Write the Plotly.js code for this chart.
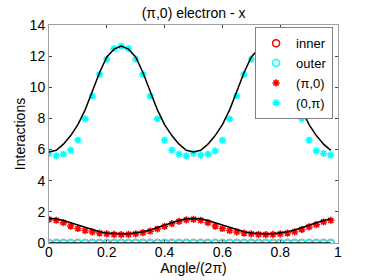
<!DOCTYPE html>
<html>
<head>
<meta charset="utf-8">
<script src="https://cdn.plot.ly/plotly-3.0.1.min.js"></script>
<style>html,body{margin:0;padding:0;background:#fff;}#chart{width:374px;height:280px;}</style>
</head>
<body>
<div id="chart"></div>
<script>
// angle samples k/40, k = 0..39
var angle = [0,0.025,0.05,0.075,0.1,0.125,0.15,0.175,0.2,0.225,0.25,0.275,0.3,0.325,0.35,0.375,0.4,0.425,0.45,0.475,
             0.5,0.525,0.55,0.575,0.6,0.625,0.65,0.675,0.7,0.725,0.75,0.775,0.8,0.825,0.85,0.875,0.9,0.925,0.95,0.975];
var innerVals = [0,0,0,0,0,0,0,0,0,0,0,0,0,0,0,0,0,0,0,0,0,0,0,0,0,0,0,0,0,0,0,0,0,0,0,0,0,0,0,0];
var outerVals = [0,0,0,0,0,0,0,0,0,0,0,0,0,0,0,0,0,0,0,0,0,0,0,0,0,0,0,0,0,0,0,0,0,0,0,0,0,0,0,0];
var piZero = [1.52,1.46,1.31,1.09,0.93,0.8,0.71,0.64,0.58,0.55,0.54,0.55,0.58,0.66,0.76,0.9,1.07,1.24,1.39,1.48,
              1.52,1.46,1.31,1.09,0.93,0.8,0.71,0.64,0.58,0.55,0.54,0.55,0.58,0.64,0.71,0.86,1.03,1.18,1.35,1.46];
var zeroPi = [5.75,5.6,5.7,5.96,6.6,7.97,9.44,10.83,11.8,12.48,12.65,12.48,11.8,10.83,9.44,7.97,6.6,5.96,5.7,5.6,
              5.75,5.64,5.7,5.92,6.6,7.97,9.45,10.83,11.8,12.48,12.65,12.48,11.8,10.83,9.44,7.97,6.6,5.92,5.75,5.64];
var fitHigh = [5.85,5.95,6.35,6.9,7.6,8.55,9.75,10.95,11.95,12.45,12.65,12.45,11.95,10.95,9.75,8.55,7.6,6.9,6.35,5.95,
               5.85,5.95,6.35,6.9,7.6,8.55,9.75,10.95,11.95,12.45,12.65,12.45,11.95,10.95,9.75,8.55,7.6,6.9,6.35,5.95];
var fitLow = [1.57,1.55,1.45,1.3,1.13,0.97,0.83,0.72,0.64,0.6,0.59,0.6,0.64,0.72,0.83,0.97,1.13,1.3,1.45,1.55,
              1.57,1.55,1.45,1.3,1.13,0.97,0.83,0.72,0.64,0.6,0.59,0.6,0.64,0.72,0.83,0.97,1.13,1.3,1.45,1.55];
var fitZero = [0,0,0,0,0,0,0,0,0,0,0,0,0,0,0,0,0,0,0,0,0,0,0,0,0,0,0,0,0,0,0,0,0,0,0,0,0,0,0,0];
var xTicks = [0,0.2,0.4,0.6,0.8,1];
var xTickText = ['0','0.2','0.4','0.6','0.8','1'];
var yTicks = [0,2,4,6,8,10,12,14];

var red = '#ff0000', cyan = '#00ffff';
var traces = [
  {x: angle, y: innerVals, name: 'inner', type: 'scatter', mode: 'markers',
   marker: {symbol: 'circle-open', size: 7, color: red, line: {width: 1.5, color: red}}},
  {x: angle, y: outerVals, name: 'outer', type: 'scatter', mode: 'markers',
   marker: {symbol: 'circle-open', size: 7, color: cyan, line: {width: 1.5, color: cyan}}},
  {x: angle, y: piZero, name: '(\u03c0,0)', type: 'scatter', mode: 'markers',
   marker: {symbol: 'asterisk-open', size: 6, color: red, line: {width: 1.6, color: red}}},
  {x: angle, y: zeroPi, name: '(0,\u03c0)', type: 'scatter', mode: 'markers',
   marker: {symbol: 'asterisk-open', size: 6, color: cyan, line: {width: 1.6, color: cyan}}},
  {x: angle, y: fitHigh, type: 'scatter', mode: 'lines', showlegend: false, line: {color: '#000', width: 1.5}},
  {x: angle, y: fitLow, type: 'scatter', mode: 'lines', showlegend: false, line: {color: '#000', width: 1.5}},
  {x: angle, y: fitZero, type: 'scatter', mode: 'lines', showlegend: false, line: {color: '#000', width: 1.5}}
];
var layout = {
  width: 374, height: 280,
  margin: {l: 49, r: 36, t: 25, b: 37},
  paper_bgcolor: '#fff', plot_bgcolor: '#fff',
  font: {family: 'Liberation Sans, Arial, sans-serif', size: 14, color: '#000'},
  title: {text: '(\u03c0,0) electron - x', font: {size: 14}, x: 0.5175, xanchor: 'center', y: 0.955, yanchor: 'middle'},
  xaxis: {range: [0, 1], tickvals: xTicks, ticktext: xTickText, ticks: 'inside', ticklen: 3, tickcolor: '#444',
          ticklabelstandoff: -4,
          showline: true, linecolor: '#a0a0a0', linewidth: 1, mirror: 'ticks', showgrid: false, zeroline: false,
          title: {text: 'Angle/(2\u03c0)', font: {size: 14}, standoff: 0}, automargin: false},
  yaxis: {range: [0, 14], tickvals: yTicks, ticks: 'inside', ticklen: 3, tickcolor: '#444',
          showline: true, linecolor: '#a0a0a0', linewidth: 1, mirror: 'ticks', showgrid: false, zeroline: false,
          title: {text: 'Interactions', font: {size: 14}, standoff: 0}, automargin: false},
  legend: {x: 0.983, y: 0.99, xanchor: 'right', yanchor: 'top', bgcolor: '#fff', bordercolor: '#808080', borderwidth: 1,
           font: {size: 13}, tracegroupgap: 0, itemwidth: 30},
  showlegend: true
};
Plotly.newPlot('chart', traces, layout, {displayModeBar: false, staticPlot: true});
</script>
</body>
</html>
